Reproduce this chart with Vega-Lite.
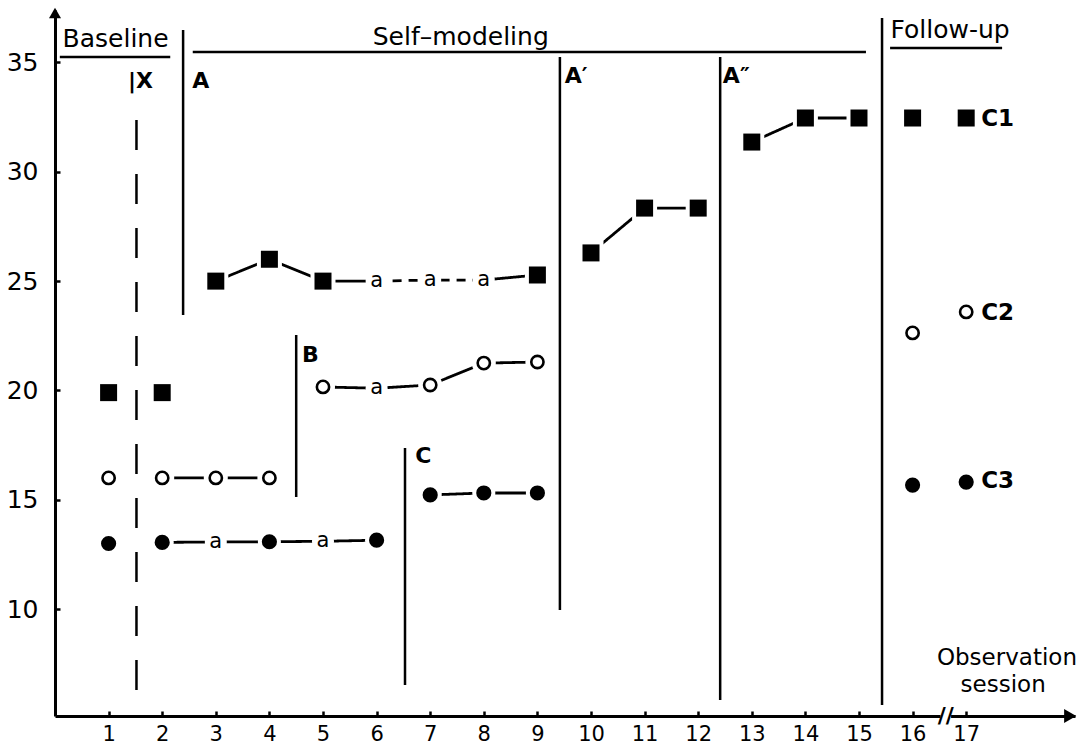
{
  "$schema": "https://vega.github.io/schema/vega-lite/v6.json",
  "width": 1020,
  "height": 706,
  "autosize": {"type": "none"},
  "padding": {"left": 55, "top": 10, "right": 10, "bottom": 28},
  "background": "white",
  "config": {
    "view": {"stroke": null},
    "font": "DejaVu Sans",
    "axis": {
      "grid": false,
      "labelFont": "DejaVu Sans",
      "labelColor": "black",
      "domainColor": "black",
      "tickColor": "black",
      "domainWidth": 3,
      "tickWidth": 2.5,
      "tickSize": -5,
      "title": null
    }
  },
  "datasets": {
    "obs": [
      {"series": "C1", "kind": "square", "session": 1, "value": 19.9},
      {"series": "C1", "kind": "square", "session": 2, "value": 19.9},
      {"series": "C1", "kind": "square", "session": 3, "value": 25.0},
      {"series": "C1", "kind": "square", "session": 4, "value": 26.0},
      {"series": "C1", "kind": "square", "session": 5, "value": 25.0},
      {"series": "C1", "kind": "a", "session": 6, "value": 25.0},
      {"series": "C1", "kind": "a", "session": 7, "value": 25.05},
      {"series": "C1", "kind": "a", "session": 8, "value": 25.05},
      {"series": "C1", "kind": "square", "session": 9, "value": 25.28},
      {"series": "C1", "kind": "square", "session": 10, "value": 26.29},
      {"series": "C1", "kind": "square", "session": 11, "value": 28.34},
      {"series": "C1", "kind": "square", "session": 12, "value": 28.34},
      {"series": "C1", "kind": "square", "session": 13, "value": 31.36},
      {"series": "C1", "kind": "square", "session": 14, "value": 32.46},
      {"series": "C1", "kind": "square", "session": 15, "value": 32.46},
      {"series": "C1", "kind": "square", "session": 16, "value": 32.46},
      {"series": "C1", "kind": "square", "session": 17, "value": 32.46},
      {"series": "C2", "kind": "open", "session": 1, "value": 16.0},
      {"series": "C2", "kind": "open", "session": 2, "value": 16.0},
      {"series": "C2", "kind": "open", "session": 3, "value": 16.0},
      {"series": "C2", "kind": "open", "session": 4, "value": 16.0},
      {"series": "C2", "kind": "open", "session": 5, "value": 20.16},
      {"series": "C2", "kind": "a", "session": 6, "value": 20.1},
      {"series": "C2", "kind": "open", "session": 7, "value": 20.25},
      {"series": "C2", "kind": "open", "session": 8, "value": 21.25},
      {"series": "C2", "kind": "open", "session": 9, "value": 21.3},
      {"series": "C2", "kind": "open", "session": 16, "value": 22.63},
      {"series": "C2", "kind": "open", "session": 17, "value": 23.59},
      {"series": "C3", "kind": "dot", "session": 1, "value": 13.0},
      {"series": "C3", "kind": "dot", "session": 2, "value": 13.05},
      {"series": "C3", "kind": "a", "session": 3, "value": 13.07},
      {"series": "C3", "kind": "dot", "session": 4, "value": 13.08},
      {"series": "C3", "kind": "a", "session": 5, "value": 13.1},
      {"series": "C3", "kind": "dot", "session": 6, "value": 13.15},
      {"series": "C3", "kind": "dot", "session": 7, "value": 15.22},
      {"series": "C3", "kind": "dot", "session": 8, "value": 15.31},
      {"series": "C3", "kind": "dot", "session": 9, "value": 15.31},
      {"series": "C3", "kind": "dot", "session": 16, "value": 15.67},
      {"series": "C3", "kind": "dot", "session": 17, "value": 15.81}
    ],
    "segs": [
      {"seg": "C1a", "dash": "solid", "session": 3, "value": 25.0},
      {"seg": "C1a", "dash": "solid", "session": 4, "value": 26.0},
      {"seg": "C1a", "dash": "solid", "session": 5, "value": 25.0},
      {"seg": "C1a", "dash": "solid", "session": 6, "value": 25.0},
      {"seg": "C1b", "dash": "short", "session": 6, "value": 25.0},
      {"seg": "C1b", "dash": "short", "session": 7, "value": 25.05},
      {"seg": "C1b", "dash": "short", "session": 8, "value": 25.05},
      {"seg": "C1c", "dash": "solid", "session": 8, "value": 25.05},
      {"seg": "C1c", "dash": "solid", "session": 9, "value": 25.28},
      {"seg": "C1d", "dash": "solid", "session": 10, "value": 26.29},
      {"seg": "C1d", "dash": "solid", "session": 11, "value": 28.34},
      {"seg": "C1d", "dash": "solid", "session": 12, "value": 28.34},
      {"seg": "C1e", "dash": "solid", "session": 13, "value": 31.36},
      {"seg": "C1e", "dash": "solid", "session": 14, "value": 32.46},
      {"seg": "C1e", "dash": "solid", "session": 15, "value": 32.46},
      {"seg": "C2a", "dash": "solid", "session": 2, "value": 16.0},
      {"seg": "C2a", "dash": "solid", "session": 3, "value": 16.0},
      {"seg": "C2a", "dash": "solid", "session": 4, "value": 16.0},
      {"seg": "C2b", "dash": "solid", "session": 5, "value": 20.16},
      {"seg": "C2b", "dash": "solid", "session": 6, "value": 20.1},
      {"seg": "C2b", "dash": "solid", "session": 7, "value": 20.25},
      {"seg": "C2b", "dash": "solid", "session": 8, "value": 21.25},
      {"seg": "C2b", "dash": "solid", "session": 9, "value": 21.3},
      {"seg": "C3a", "dash": "solid", "session": 2, "value": 13.05},
      {"seg": "C3a", "dash": "solid", "session": 3, "value": 13.07},
      {"seg": "C3a", "dash": "solid", "session": 4, "value": 13.08},
      {"seg": "C3a", "dash": "solid", "session": 5, "value": 13.1},
      {"seg": "C3a", "dash": "solid", "session": 6, "value": 13.15},
      {"seg": "C3b", "dash": "solid", "session": 7, "value": 15.22},
      {"seg": "C3b", "dash": "solid", "session": 8, "value": 15.31},
      {"seg": "C3b", "dash": "solid", "session": 9, "value": 15.31}
    ],
    "vlines": [
      {"name": "X", "dash": "long", "session": 1.52, "value": 32.37, "value2": 6.07},
      {"name": "A", "dash": "solid", "session": 2.39, "value": 36.49, "value2": 23.45},
      {"name": "B", "dash": "solid", "session": 4.5, "value": 22.54, "value2": 15.13},
      {"name": "C", "dash": "solid", "session": 6.53, "value": 17.37, "value2": 6.53},
      {"name": "A1", "dash": "solid", "session": 9.42, "value": 35.25, "value2": 9.96},
      {"name": "A2", "dash": "solid", "session": 12.41, "value": 35.25, "value2": 5.84},
      {"name": "FU", "dash": "solid", "session": 15.43, "value": 37.03, "value2": 5.61}
    ],
    "hlines": [
      {"name": "Baseline", "session": 0.09, "session2": 2.15, "value": 35.25},
      {"name": "Self-modeling", "session": 2.57, "session2": 15.13, "value": 35.48},
      {"name": "Follow-up", "session": 15.58, "session2": 17.67, "value": 35.66}
    ],
    "labels": [
      {"group": "header", "text": "Baseline", "session": 1.13, "value": 35.71},
      {"group": "header", "text": "Self–modeling", "session": 7.57, "value": 35.8},
      {"group": "header", "text": "Follow-up", "session": 16.7, "value": 36.12},
      {"group": "phase", "text": "|X", "session": 1.36, "value": 33.83},
      {"group": "phase", "text": "A", "session": 2.56, "value": 33.83},
      {"group": "phase", "text": "A′", "session": 9.51, "value": 34.06},
      {"group": "phase", "text": "A″", "session": 12.46, "value": 34.06},
      {"group": "phase", "text": "B", "session": 4.61, "value": 21.3},
      {"group": "phase", "text": "C", "session": 6.72, "value": 16.68},
      {"group": "series", "text": "C1", "session": 17.28, "value": 32.09},
      {"group": "series", "text": "C2", "session": 17.28, "value": 23.22},
      {"group": "series", "text": "C3", "session": 17.28, "value": 15.54},
      {"group": "axistitle", "text": "Observation", "session": 17.76, "value": 7.45},
      {"group": "axistitle", "text": "session", "session": 17.69, "value": 6.22},
      {"group": "break", "text": "//", "session": 16.62, "value": 5.11}
    ],
    "arrows": [
      {"dir": "up", "session": 0, "value": 37.26},
      {"dir": "right", "session": 18.94, "value": 5.11}
    ]
  },
  "encoding": {
    "x": {
      "field": "session",
      "type": "quantitative",
      "scale": {"domain": [0, 19.03], "nice": false, "zero": false},
      "axis": {
        "values": [1, 2, 3, 4, 5, 6, 7, 8, 9, 10, 11, 12, 13, 14, 15, 16, 17],
        "labelFontSize": 21,
        "labelPadding": 12
      }
    },
    "y": {
      "field": "value",
      "type": "quantitative",
      "scale": {"domain": [5.11, 37.4], "nice": false, "zero": false},
      "axis": {
        "values": [10, 15, 20, 25, 30, 35],
        "labelFontSize": 25,
        "labelPadding": 22
      }
    }
  },
  "layer": [
    {
      "data": {"name": "hlines"},
      "mark": {"type": "rule", "strokeWidth": 2.5, "color": "black"},
      "encoding": {"x2": {"field": "session2"}}
    },
    {
      "data": {"name": "vlines"},
      "mark": {"type": "rule", "strokeWidth": 2.5, "color": "black"},
      "encoding": {
        "y2": {"field": "value2"},
        "strokeDash": {
          "field": "dash",
          "type": "nominal",
          "scale": {"domain": ["solid", "long", "short"], "range": [[1, 0], [30, 24], [9, 7]]},
          "legend": null
        }
      }
    },
    {
      "data": {"name": "segs"},
      "mark": {"type": "line", "strokeWidth": 2.8, "color": "black"},
      "encoding": {
        "detail": {"field": "seg", "type": "nominal"},
        "strokeDash": {
          "field": "dash",
          "type": "nominal",
          "scale": {"domain": ["solid", "long", "short"], "range": [[1, 0], [30, 24], [9, 7]]},
          "legend": null
        }
      }
    },
    {
      "data": {"name": "obs"},
      "mark": {"type": "point", "filled": true, "color": "white", "opacity": 1},
      "encoding": {
        "shape": {
          "field": "kind",
          "type": "nominal",
          "scale": {"domain": ["square", "open", "dot", "a"], "range": ["square", "circle", "circle", "circle"]},
          "legend": null
        },
        "size": {
          "field": "kind",
          "type": "nominal",
          "scale": {"domain": ["square", "open", "dot", "a"], "range": [625, 484, 484, 420]},
          "legend": null
        }
      }
    },
    {
      "data": {"name": "obs"},
      "transform": [{"filter": "datum.kind === 'square'"}],
      "mark": {"type": "point", "shape": "square", "filled": true, "color": "black", "size": 289, "opacity": 1}
    },
    {
      "data": {"name": "obs"},
      "transform": [{"filter": "datum.kind === 'open'"}],
      "mark": {"type": "point", "shape": "circle", "filled": false, "fill": "white", "stroke": "black", "strokeWidth": 2.6, "size": 150, "opacity": 1}
    },
    {
      "data": {"name": "obs"},
      "transform": [{"filter": "datum.kind === 'dot'"}],
      "mark": {"type": "point", "shape": "circle", "filled": true, "color": "black", "size": 230, "opacity": 1}
    },
    {
      "data": {"name": "obs"},
      "transform": [{"filter": "datum.kind === 'a'"}],
      "mark": {"type": "text", "fontSize": 21, "align": "center", "baseline": "middle", "color": "black"},
      "encoding": {"text": {"field": "kind", "type": "nominal"}}
    },
    {
      "data": {"name": "labels"},
      "transform": [{"filter": "datum.group === 'header'"}],
      "mark": {"type": "text", "fontSize": 25, "align": "center", "baseline": "alphabetic", "color": "black"},
      "encoding": {"text": {"field": "text", "type": "nominal"}}
    },
    {
      "data": {"name": "labels"},
      "transform": [{"filter": "datum.group === 'phase'"}],
      "mark": {"type": "text", "fontSize": 22, "fontWeight": "bold", "align": "left", "baseline": "alphabetic", "color": "black"},
      "encoding": {"text": {"field": "text", "type": "nominal"}}
    },
    {
      "data": {"name": "labels"},
      "transform": [{"filter": "datum.group === 'series'"}],
      "mark": {"type": "text", "fontSize": 23, "fontWeight": "bold", "align": "left", "baseline": "alphabetic", "color": "black"},
      "encoding": {"text": {"field": "text", "type": "nominal"}}
    },
    {
      "data": {"name": "labels"},
      "transform": [{"filter": "datum.group === 'axistitle'"}],
      "mark": {"type": "text", "fontSize": 23, "align": "center", "baseline": "alphabetic", "color": "black"},
      "encoding": {"text": {"field": "text", "type": "nominal"}}
    },
    {
      "data": {"name": "labels"},
      "transform": [{"filter": "datum.group === 'break'"}],
      "mark": {"type": "point", "shape": "square", "filled": true, "color": "white", "size": 110, "opacity": 1}
    },
    {
      "data": {"name": "labels"},
      "transform": [{"filter": "datum.group === 'break'"}],
      "mark": {"type": "text", "fontSize": 22, "align": "center", "baseline": "middle", "color": "black", "fontWeight": "bold"},
      "encoding": {"text": {"field": "text", "type": "nominal"}}
    },
    {
      "data": {"name": "arrows"},
      "transform": [{"filter": "datum.dir === 'up'"}],
      "mark": {"type": "point", "shape": "triangle-up", "filled": true, "color": "black", "size": 144, "opacity": 1}
    },
    {
      "data": {"name": "arrows"},
      "transform": [{"filter": "datum.dir === 'right'"}],
      "mark": {"type": "point", "shape": "triangle-right", "filled": true, "color": "black", "size": 196, "opacity": 1}
    }
  ]
}
